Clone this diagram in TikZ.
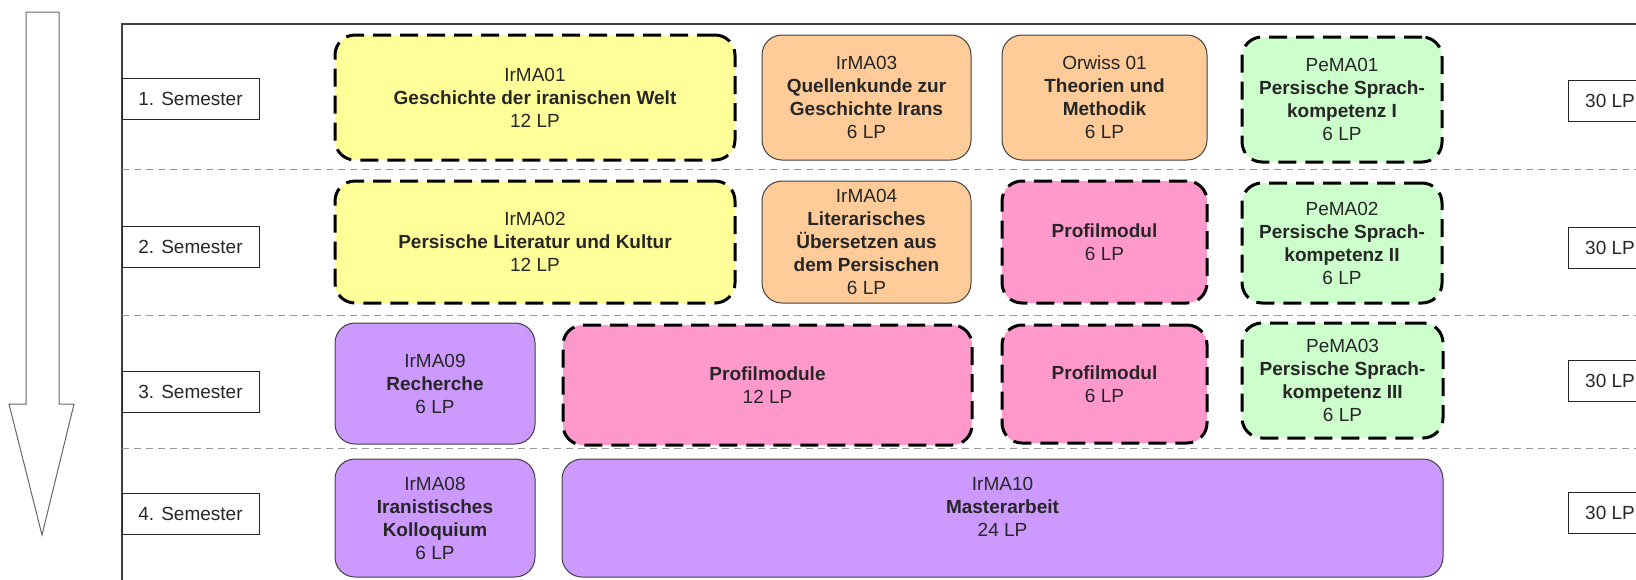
\documentclass[tikz,border=0pt]{standalone}
\usepackage{fontspec}
\setmainfont{Liberation Sans}
\usetikzlibrary{positioning}

\definecolor{gelb}{HTML}{FFFF99}
\definecolor{apricot}{HTML}{FFCC99}
\definecolor{mint}{HTML}{CCFFCC}
\definecolor{rosa}{HTML}{FF99CC}
\definecolor{lila}{HTML}{CC99FF}

\begin{document}
\begin{tikzpicture}[x=0.5pt, y=-0.5pt,
    modul/.style={rounded corners=10pt, align=center, text=black!85, inner sep=0pt,
        font=\fontsize{9.5pt}{11.5pt}\selectfont},
    fest/.style={modul, draw=black!75, line width=0.5pt},
    wahl/.style={modul, draw=black, line width=1.5pt, dash pattern=on 9pt off 4.5pt},
    semkasten/.style={draw=black!85, line width=0.5pt, minimum width=68.5pt,
        minimum height=20.5pt, inner sep=0pt, text=black!85,
        font=\fontsize{9.5pt}{11.5pt}\selectfont},
    lpkasten/.style={semkasten, minimum width=42pt},
    trenner/.style={black!40, line width=0.5pt, dash pattern=on 3.5pt off 2.5pt}]
    \useasboundingbox (0,0) rectangle (1636,579);
    \clip (0,0) rectangle (1636,579);

    % Zeitpfeil
    \draw[black!60, line width=0.5pt, fill=white]
        (26,12) -- (59,12) -- (59,404) -- (74,404) -- (42,535) -- (9,404) -- (26,404) -- cycle;

    % Rahmen und Trennlinien
    \draw[black!75, line width=0.6pt] (122,24) rectangle (1700,620);
    \draw[trenner] (122,169) -- (1700,169);
    \draw[trenner] (122,315.5) -- (1700,315.5);
    \draw[trenner] (122,448) -- (1700,448);

    % Semester
    \node[semkasten] (sem1) at (190.5,98.5) {1. Semester};
    \node[semkasten] (sem2) at (190.5,246.5) {2. Semester};
    \node[semkasten] (sem3) at (190.5,391.5) {3. Semester};
    \node[semkasten] (sem4) at (190.5,513.5) {4. Semester};

    % Leistungspunkte je Semester
    \node[lpkasten] (lp1) at (1610,100.5) {30 LP};
    \node[lpkasten] (lp2) at (1610,247.5) {30 LP};
    \node[lpkasten] (lp3) at (1610,381) {30 LP};
    \node[lpkasten] (lp4) at (1610,513) {30 LP};

    % 1. Semester
    \node[wahl, fill=gelb, minimum width=200pt, minimum height=62.5pt] (irma01) at (535,97.5)
        {IrMA01\\\textbf{Geschichte der iranischen Welt}\\12 LP};
    \node[fest, fill=apricot, minimum width=104.5pt, minimum height=62.5pt] (irma03) at (866.5,97.5)
        {IrMA03\\\textbf{Quellenkunde zur}\\\textbf{Geschichte Irans}\\6 LP};
    \node[fest, fill=apricot, minimum width=102.5pt, minimum height=62.5pt] (orwiss01) at (1104.5,97.5)
        {Orwiss 01\\\textbf{Theorien und}\\\textbf{Methodik}\\6 LP};
    \node[wahl, fill=mint, minimum width=100pt, minimum height=62.5pt] (pema01) at (1342,99.5)
        {PeMA01\\\textbf{Persische Sprach-}\\\textbf{kompetenz I}\\6 LP};

    % 2. Semester
    \node[wahl, fill=gelb, minimum width=200pt, minimum height=61pt] (irma02) at (535,242)
        {IrMA02\\\textbf{Persische Literatur und Kultur}\\12 LP};
    \node[fest, fill=apricot, minimum width=104.5pt, minimum height=61pt] (irma04) at (866.5,242)
        {IrMA04\\\textbf{Literarisches}\\\textbf{Übersetzen aus}\\\textbf{dem Persischen}\\6 LP};
    \node[wahl, fill=rosa, minimum width=102.5pt, minimum height=61pt] (profil2) at (1104.5,242)
        {\textbf{Profilmodul}\\6 LP};
    \node[wahl, fill=mint, minimum width=100pt, minimum height=60pt] (pema02) at (1342,243)
        {PeMA02\\\textbf{Persische Sprach-}\\\textbf{kompetenz II}\\6 LP};

    % 3. Semester
    \node[fest, fill=lila, minimum width=100pt, minimum height=60.5pt] (irma09) at (435,383.5)
        {IrMA09\\\textbf{Recherche}\\6 LP};
    \node[wahl, fill=rosa, minimum width=204.5pt, minimum height=60pt] (profil12) at (767.5,385)
        {\textbf{Profilmodule}\\12 LP};
    \node[wahl, fill=rosa, minimum width=102.5pt, minimum height=59pt] (profil3) at (1104.5,384)
        {\textbf{Profilmodul}\\6 LP};
    \node[wahl, fill=mint, minimum width=100.5pt, minimum height=57.5pt] (pema03) at (1342.5,380.5)
        {PeMA03\\\textbf{Persische Sprach-}\\\textbf{kompetenz III}\\6 LP};

    % 4. Semester
    \node[fest, fill=lila, minimum width=100pt, minimum height=59pt] (irma08) at (435,518)
        {IrMA08\\\textbf{Iranistisches}\\\textbf{Kolloquium}\\6 LP};
    \node[fest, fill=lila, minimum width=440.5pt, minimum height=59pt] (irma10) at (1002.5,518)
        {IrMA10\\\textbf{Masterarbeit}\\24 LP\\\mbox{}};
\end{tikzpicture}
\end{document}
